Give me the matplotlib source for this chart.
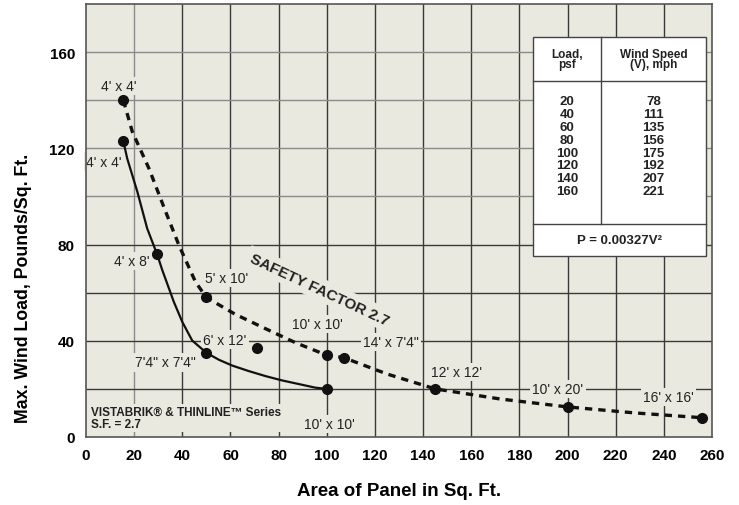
import matplotlib
matplotlib.use("Agg")
import matplotlib.pyplot as plt

# marked panels, max wind load curve (no safety factor applied)
load_x = [15.5, 29.5, 50, 100]
load_y = [123, 76, 35, 20]
load_names = ["4' x 4'", "4' x 8'", "7'4\" x 7'4\"", "10' x 10'"]
# traced path of the solid curve
load_path_x = [15.5, 17.1, 21.3, 25.4, 29.5, 31.7, 36.5, 40, 44.1, 50,
               55.2, 60.7, 67.6, 74.6, 81.5, 88.4, 95.3, 100]
load_path_y = [123, 115.8, 102, 86.7, 76, 69.3, 56.1, 47.8, 40.1, 35,
               32.1, 29.7, 27.4, 25.3, 23.5, 22, 20.5, 20]

# safety factor 2.7 curve
sf_x = [15.5, 50, 100, 107, 145, 200, 256]
sf_y = [140, 58, 34, 33, 20, 12.5, 8]
sf_names = ["4' x 4'", "5' x 10'", "10' x 10'", "14' x 7'4\"", "12' x 12'", "10' x 20'", "16' x 16'"]
sf_path_x = [15.5, 19.2, 26.1, 33.1, 38.6, 45.5, 50, 62, 74.6, 87, 100, 107,
             125, 145, 172, 200, 228, 256]
sf_path_y = [140, 127, 111.7, 93.6, 79.7, 64.4, 58, 51, 45, 39.2, 34, 33,
             26.2, 20, 15.8, 12.5, 10, 8]

# single point
extra_x = [71]
extra_y = [37]

table_load = [20, 40, 60, 80, 100, 120, 140, 160]
table_speed = [78, 111, 135, 156, 175, 192, 207, 221]

bg = '#e9e9df'
font = 'Liberation Sans'

fig = plt.figure(figsize=(7.39, 5.06), dpi=100)
ax = fig.add_axes([0.1164, 0.1344, 0.8471, 0.8557])
ax.set_facecolor(bg)
ax.set_xlim(0, 260)
ax.set_ylim(0, 180)

# grid, some lines are printed lighter
for gx in range(20, 260, 20):
    c = '#8a8a8a' if gx == 20 else '#3a3a3a'
    ax.axvline(gx, color=c, lw=1.0, zorder=1)
for gy in range(20, 180, 20):
    c = '#8a8a8a' if gy >= 100 else '#3a3a3a'
    ax.axhline(gy, color=c, lw=1.0, zorder=1)
for s in ax.spines.values():
    s.set_color('#555555')
    s.set_linewidth(1.2)

ax.set_xticks(range(0, 261, 20))
ax.set_yticks(range(0, 161, 40))
ax.tick_params(length=0, pad=8, labelsize=11)
for lab in ax.get_xticklabels() + ax.get_yticklabels():
    lab.set_fontfamily(font)
    lab.set_fontweight('bold')
ax.set_xlabel('Area of Panel in Sq. Ft.', fontsize=13.5, fontweight='bold',
              fontfamily=font, labelpad=14)
ax.set_ylabel('Max. Wind Load, Pounds/Sq. Ft.', fontsize=12.8, fontweight='bold',
              fontfamily=font)
ax.yaxis.set_label_coords(-0.086, 0.346)

# curves
ax.plot(load_path_x, load_path_y, color='#111111', lw=1.6, zorder=3)
ax.plot(sf_path_x, sf_path_y, color='#111111', lw=2.4, zorder=3,
        linestyle=(0, (2.2, 1.8)))
ax.plot(load_x, load_y, 'o', color='#111111', ms=7, zorder=4)
ax.plot(sf_x, sf_y, 'o', color='#111111', ms=7, zorder=4)
ax.plot(extra_x, extra_y, 'o', color='#111111', ms=7, zorder=4)

box = dict(facecolor=bg, edgecolor='none', pad=1.5)
lab_kw = dict(fontsize=10, fontfamily=font, color='#222222', ha='center',
              va='center', zorder=2, bbox=box)

# labels for solid curve
ax.text(7.5, 114.5, load_names[0], **lab_kw)
ax.text(19, 73, load_names[1], **lab_kw)
ax.text(33, 31, load_names[2], **lab_kw)
ax.text(101, 5.4, load_names[3], **lab_kw)
# labels for safety factor curve
ax.text(13.5, 146, sf_names[0], **lab_kw)
ax.text(58.5, 66, sf_names[1], **lab_kw)
ax.text(96, 47, sf_names[2], **lab_kw)
ax.text(126.5, 39.6, sf_names[3], **lab_kw)
ax.text(154, 27, sf_names[4], **lab_kw)
ax.text(196, 20, sf_names[5], **lab_kw)
ax.text(242, 16.7, sf_names[6], **lab_kw)
ax.text(57.7, 40.5, "6' x 12'", **lab_kw)

ax.text(97, 61.5, 'SAFETY FACTOR 2.7', fontsize=11, fontfamily=font,
        fontweight='bold', color='#222222', rotation=-25, ha='center',
        va='center', zorder=2, bbox=dict(facecolor=bg, edgecolor='none', pad=3))

ax.text(2, 8, 'VISTABRIK® & THINLINE™ Series\nS.F. = 2.7', fontsize=8.5,
        fontfamily=font, fontweight='bold', color='#222222', ha='left',
        va='center', linespacing=0.95, zorder=2, bbox=box)

# table of wind speed
T = ax.transAxes
l, r, c = 0.714, 0.990, 0.823
top, head, form, bot = 0.924, 0.822, 0.492, 0.418
ax.add_patch(plt.Rectangle((l, bot), r - l, top - bot, transform=T,
                           facecolor='white', edgecolor='#444444', lw=1.0, zorder=5))
ax.plot([l, r], [head, head], color='#444444', lw=1.0, transform=T, zorder=6)
ax.plot([l, r], [form, form], color='#444444', lw=1.0, transform=T, zorder=6)
ax.plot([c, c], [head, top], color='#444444', lw=1.0, transform=T, zorder=6)
ax.plot([c, c], [form, head], color='#444444', lw=1.0, transform=T, zorder=6)

tkw = dict(transform=T, fontfamily=font, fontweight='bold', color='#222222',
           ha='center', zorder=7)
ax.text((l + c) / 2, 0.873, 'Load,\npsf', fontsize=8.5, va='center',
        linespacing=0.85, **tkw)
ax.text((c + r) / 2, 0.873, 'Wind Speed\n(V), mph', fontsize=8.5, va='center',
        linespacing=0.85, **tkw)
ax.text((l + c) / 2, 0.79, '\n'.join(str(v) for v in table_load), fontsize=9.5,
        va='top', linespacing=1.1, **tkw)
ax.text((c + r) / 2, 0.79, '\n'.join(str(v) for v in table_speed), fontsize=9.5,
        va='top', linespacing=1.1, **tkw)
ax.text((l + r) / 2, 0.455, 'P = 0.00327V²', fontsize=9.5, va='center', **tkw)

fig.savefig('out.png', dpi=100, facecolor='white')
